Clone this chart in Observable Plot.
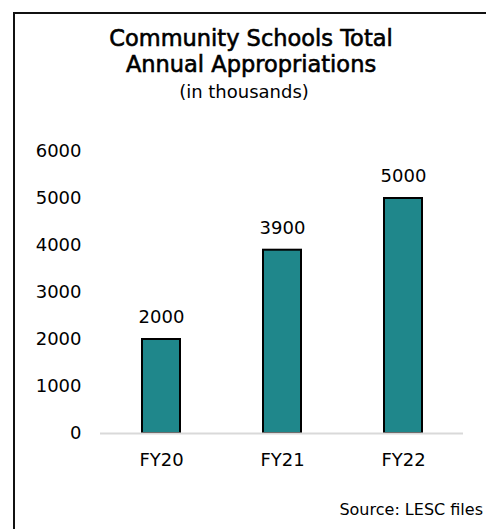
<!DOCTYPE html>
<html>
<head>
<meta charset="utf-8">
<script src="https://cdn.jsdelivr.net/npm/d3@7"></script>
<script src="https://cdn.jsdelivr.net/npm/@observablehq/plot@0.6"></script>
<style>
  html, body { margin: 0; padding: 0; background: #fff; width: 486px; height: 529px; overflow: hidden; }
  body { position: relative; font-family: "DejaVu Sans", sans-serif; color: #000; }
  #frame { position: absolute; left: 13px; top: 12px; width: 472px; height: 540px; border: 2px solid #111; box-sizing: content-box; }
  .t { position: absolute; left: 13px; width: 476px; text-align: center; white-space: nowrap; }
  #t1 { top: 25px; font-size: 22.5px; -webkit-text-stroke: 0.6px #000; }
  #t2 { top: 51px; font-size: 22.5px; -webkit-text-stroke: 0.6px #000; }
  #sub { top: 81px; font-size: 18px; left: 6px; }
  #chart { position: absolute; left: 0; top: 125px; }
  #src { position: absolute; right: 3px; top: 500px; font-size: 16px; white-space: nowrap; }
</style>
</head>
<body>
<div id="frame"></div>
<div class="t" id="t1">Community Schools Total</div>
<div class="t" id="t2">Annual Appropriations</div>
<div class="t" id="sub">(in thousands)</div>
<div id="chart"></div>
<div id="src">Source: LESC files</div>
<script>
const years = ["FY20", "FY21", "FY22"];
const amounts = [2000, 3900, 5000];
const yTicks = [0, 1000, 2000, 3000, 4000, 5000, 6000];

const data = years.map((y, i) => ({year: y, value: amounts[i]}));

const chart = Plot.plot({
  width: 486,
  height: 365,
  marginLeft: 100,
  marginRight: 23,
  marginTop: 26,
  marginBottom: 57,
  style: {fontFamily: "DejaVu Sans, sans-serif", fontSize: "18px", color: "#000", background: "transparent"},
  x: {domain: years, paddingInner: 0.686, paddingOuter: 0.343, label: null},
  y: {domain: [0, 6000], label: null},
  marks: [
    Plot.axisY({ticks: yTicks, tickSize: 0, tickPadding: 19, tickFormat: d => String(d), fontSize: 18}),
    Plot.axisX({tickSize: 0, tickPadding: 20, fontSize: 18}),
    Plot.barY(data, {x: "year", y: "value", fill: "#1F878B", stroke: "#000", strokeWidth: 2}),
    Plot.ruleY([0], {stroke: "#d9d9d9", strokeWidth: 2}),
    Plot.text(data, {x: "year", y: "value", text: d => String(d.value), dy: -22, fontSize: 18, fill: "#000"})
  ]
});
document.getElementById("chart").appendChild(chart);
</script>
</body>
</html>
